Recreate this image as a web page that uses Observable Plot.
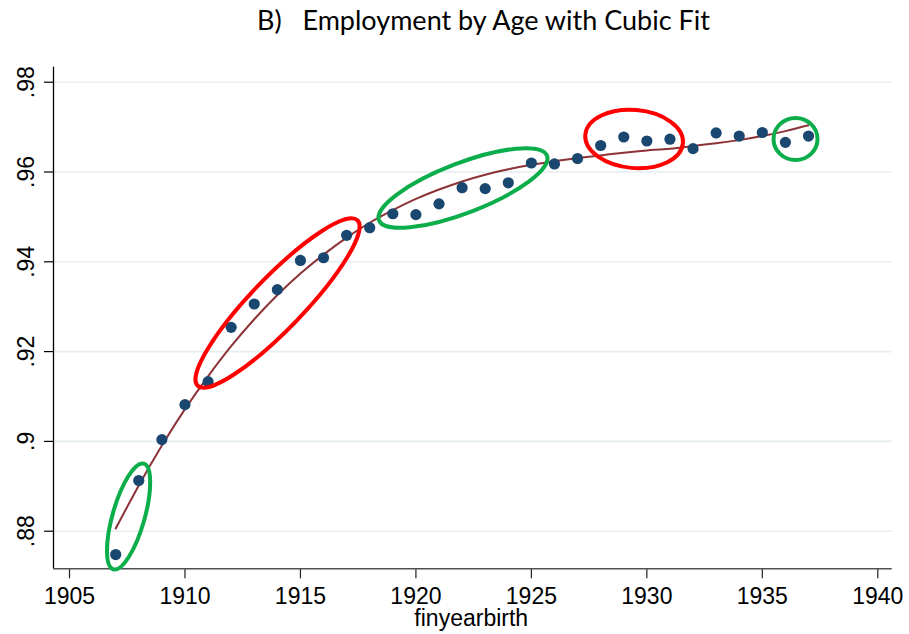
<!DOCTYPE html>
<html>
<head>
<meta charset="utf-8">
<script src="https://cdn.jsdelivr.net/npm/d3@7"></script>
<script src="https://cdn.jsdelivr.net/npm/@observablehq/plot@0.6"></script>
<style>
  body { margin: 0; background: #ffffff; }
  #chart svg { display: block; }
</style>
</head>
<body>
<div id="chart"></div>
<script>
// ---- data ----
const titleText = "B)\u00a0\u00a0 Employment by Age with Cubic Fit";
const xLabel = "finyearbirth";

const years = [1907, 1908, 1909, 1910, 1911, 1912, 1913, 1914, 1915, 1916,
               1917, 1918, 1919, 1920, 1921, 1922, 1923, 1924, 1925, 1926,
               1927, 1928, 1929, 1930, 1931, 1932, 1933, 1934, 1935, 1936, 1937];

const employment = [0.8748, 0.8913, 0.9004, 0.9082, 0.9133, 0.9254, 0.9306, 0.9338, 0.9403, 0.9409,
                    0.9459, 0.9476, 0.9507, 0.9505, 0.9529, 0.9565, 0.9563, 0.9576, 0.9620, 0.9618,
                    0.9630, 0.9659, 0.9678, 0.9669, 0.9673, 0.9652, 0.9687, 0.9680, 0.9688, 0.9666, 0.9680];

const cubicFit = [0.8806, 0.8902, 0.8991, 0.9072, 0.9145, 0.9212, 0.9272, 0.9326, 0.9374, 0.9416,
                  0.9454, 0.9487, 0.9515, 0.9540, 0.9561, 0.9579, 0.9594, 0.9606, 0.9616, 0.9624,
                  0.9631, 0.9637, 0.9643, 0.9648, 0.9652, 0.9658, 0.9664, 0.9671, 0.9680, 0.9691, 0.9704];

const xTicks = [1905, 1910, 1915, 1920, 1925, 1930, 1935, 1940];
const xTickLabels = ["1905", "1910", "1915", "1920", "1925", "1930", "1935", "1940"];
const yTicks = [0.88, 0.90, 0.92, 0.94, 0.96, 0.98];
const yTickLabels = [".88", ".9", ".92", ".94", ".96", ".98"];

// highlighted groups (centre in data units)
const highlightYear  = [1907.58, 1914.03, 1922.06, 1929.47, 1936.46];
const highlightValue = [0.88316, 0.93071, 0.95633, 0.96724, 0.96724];
const highlightKind  = ["green", "red", "green", "red", "green"];

// ---- presentation ----
const xDomain = [1904.307, 1940.624];
const yDomain = [0.87163, 0.98334];
const ellipseShape = [
  {rx: 55, ry: 16, angle: -74},
  {rx: 115, ry: 26, angle: -46},
  {rx: 90, ry: 25, angle: -21},
  {rx: 49, ry: 29, angle: 5},
  {rx: 22, ry: 21, angle: 0}
];
const kindColor = {green: "#0bae4a", red: "#ff0000"};

const rows = years.map((y, i) => ({year: y, value: employment[i], fit: cubicFit[i]}));
const yTickRows = yTicks.map((v, i) => ({v, label: yTickLabels[i]}));
const xTickRows = xTicks.map((v, i) => ({v, label: xTickLabels[i]}));

function ellipses(index, scales) {
  const g = d3.create("svg:g");
  highlightYear.forEach((yr, i) => {
    const s = ellipseShape[i];
    g.append("ellipse")
      .attr("transform", `translate(${scales.x(yr)},${scales.y(highlightValue[i])}) rotate(${s.angle})`)
      .attr("rx", s.rx).attr("ry", s.ry)
      .attr("fill", "none")
      .attr("stroke", kindColor[highlightKind[i]])
      .attr("stroke-width", 4);
  });
  return g.node();
}

const chart = Plot.plot({
  width: 909,
  height: 634,
  marginLeft: 53,
  marginRight: 17.3,
  marginTop: 66.7,
  marginBottom: 65.7,
  style: {fontFamily: "Liberation Sans, Arial, sans-serif", background: "#ffffff", color: "#000"},
  x: {domain: xDomain},
  y: {domain: yDomain},
  marks: [
    Plot.ruleY(yTicks, {stroke: "#e6eef0", strokeWidth: 1.6}),
    Plot.axisY({ticks: yTicks, tickSize: 9, tickFormat: () => "", label: null, stroke: "#000", strokeWidth: 1.2}),
    Plot.axisX({ticks: xTicks, tickSize: 10, tickFormat: () => "", label: null, stroke: "#222", strokeWidth: 1.2}),
    Plot.ruleX([xDomain[0]], {stroke: "#000", strokeWidth: 1.3}),
    Plot.ruleY([yDomain[0]], {stroke: "#505050", strokeWidth: 1.6}),
    Plot.line(rows, {x: "year", y: "fit", stroke: "#8d3338", strokeWidth: 2, curve: "natural"}),
    Plot.dot(rows, {x: "year", y: "value", r: 5.6, fill: "#1a476f", stroke: "none"}),
    ellipses,
    // tick labels
    Plot.text(yTickRows, {y: "v", text: "label", frameAnchor: "left", rotate: -90, textAnchor: "middle", lineAnchor: "bottom", dx: -20, fontSize: 23, fill: "#000"}),
    Plot.text(xTickRows, {x: "v", text: "label", frameAnchor: "bottom", lineAnchor: "top", dy: 18.7, fontSize: 23, fill: "#000"}),
    Plot.text([xLabel], {frameAnchor: "bottom", lineAnchor: "bottom", dy: 56.7, dx: -1.6, fontSize: 23, fill: "#000"}),
    Plot.text([titleText], {frameAnchor: "top", lineAnchor: "bottom", dy: -37.4, dx: 10.6, fontSize: 27, fontFamily: "Lato", fill: "#000"})
  ]
});
document.getElementById("chart").appendChild(chart);
</script>
</body>
</html>
